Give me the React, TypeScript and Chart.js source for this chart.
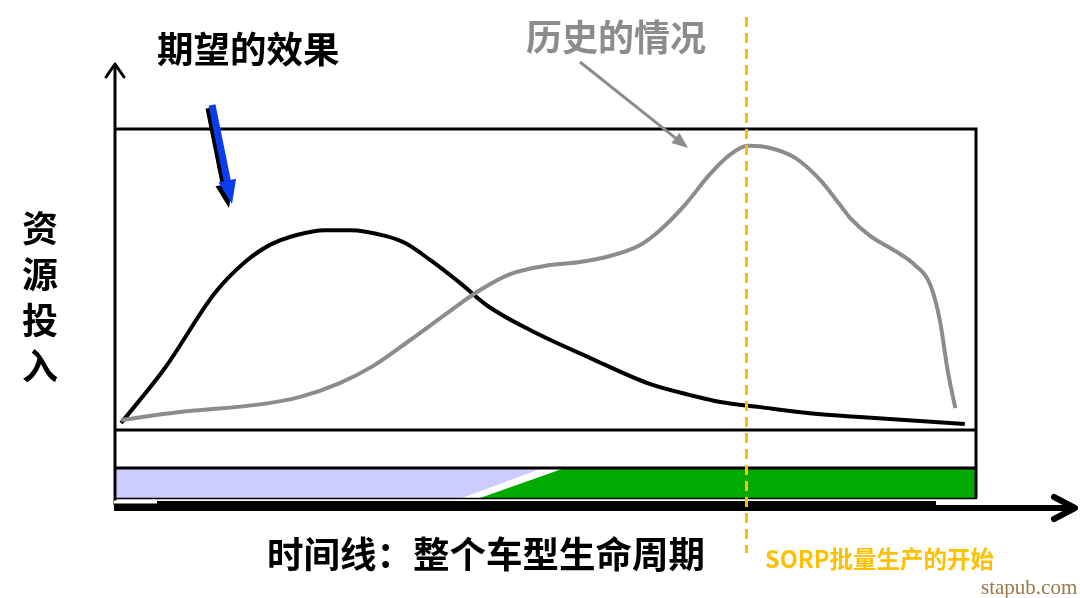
import React, { useEffect, useRef } from "react";
import { Chart, registerables } from "chart.js";

Chart.register(...registerables);

// Time along the whole vehicle lifecycle (0-100) and resource input (0-100)
const desiredTime = [0.7, 5.8, 11.6, 15.1, 18.0, 21.1, 24.4, 27.3, 31.4, 33.7, 36.6, 40.1, 43.3, 48.2, 55.2, 62.1, 66.8, 70.3, 74.9, 80.7, 86.5, 93.5, 98.7];
const desiredEffort = [2.3, 20.6, 45.5, 55.8, 61.5, 64.8, 66.4, 66.4, 64.5, 62.1, 56.5, 48.8, 41.2, 33.2, 23.9, 15.3, 11.6, 9.3, 7.6, 5.6, 4.3, 3.0, 2.0];

const historyTime = [0.7, 7.5, 17.1, 21.5, 26.1, 30.0, 34.3, 38.9, 42.4, 45.9, 49.9, 54.0, 57.5, 61.0, 63.3, 66.2, 69.1, 71.4, 73.5, 76.1, 79.0, 81.9, 84.2, 85.4, 87.7, 90.6, 92.9, 94.7, 95.8, 96.7, 97.6];
const historyEffort = [3.3, 6.0, 8.6, 11.0, 15.6, 21.3, 29.9, 39.5, 46.5, 51.8, 54.5, 55.8, 57.8, 61.5, 66.4, 74.8, 85.0, 91.4, 94.4, 93.7, 90.4, 83.1, 74.8, 70.4, 64.5, 59.5, 54.8, 48.2, 36.5, 19.9, 7.3];

const sorpTime = [73.3];

const labels = {
  desired: "期望的效果",
  history: "历史的情况",
  yAxis: ["资", "源", "投", "入"],
  xAxis: "时间线：整个车型生命周期",
  sorp: "SORP批量生产的开始",
  credit: "stapub.com",
};

function toPoints(xs: number[], ys: number[]) {
  return xs.map((x, i) => ({ x, y: ys[i] }));
}

function arrow(ctx: CanvasRenderingContext2D, x1: number, y1: number, x2: number, y2: number, color: string, lw: number, headLen: number, headW: number) {
  const dx = x2 - x1, dy = y2 - y1;
  const len = Math.hypot(dx, dy);
  const ux = dx / len, uy = dy / len;
  const px = -uy, py = ux;
  const bx = x2 - ux * headLen, by = y2 - uy * headLen;
  ctx.save();
  ctx.strokeStyle = color;
  ctx.fillStyle = color;
  ctx.lineWidth = lw;
  ctx.beginPath();
  ctx.moveTo(x1, y1);
  ctx.lineTo(bx + ux * 1, by + uy * 1);
  ctx.stroke();
  ctx.beginPath();
  ctx.moveTo(x2, y2);
  ctx.lineTo(bx + px * headW / 2, by + py * headW / 2);
  ctx.lineTo(bx - px * headW / 2, by - py * headW / 2);
  ctx.closePath();
  ctx.fill();
  ctx.restore();
}

const decorPlugin = {
  id: "decor",
  beforeDatasetsDraw(chart: any) {
    const ctx: CanvasRenderingContext2D = chart.ctx;
    const a = chart.chartArea;
    const L = a.left, R = a.right, T = a.top, B = a.bottom;
    const barTop = B + 39, barBot = B + 68;
    ctx.save();
    // phase bar
    ctx.fillStyle = "#ccccff";
    ctx.beginPath();
    ctx.moveTo(L, barTop);
    ctx.lineTo(540, barTop);
    ctx.lineTo(462, barBot);
    ctx.lineTo(L, barBot);
    ctx.closePath();
    ctx.fill();
    ctx.fillStyle = "#00aa00";
    ctx.beginPath();
    ctx.moveTo(562, barTop);
    ctx.lineTo(R + 1, barTop);
    ctx.lineTo(R + 1, barBot);
    ctx.lineTo(480, barBot);
    ctx.closePath();
    ctx.fill();
    // box lines
    ctx.strokeStyle = "#000";
    ctx.lineWidth = 3;
    ctx.beginPath();
    ctx.moveTo(L, T); ctx.lineTo(R, T);
    ctx.moveTo(L, B); ctx.lineTo(R, B);
    ctx.moveTo(L, barTop - 1); ctx.lineTo(R, barTop - 1);
    ctx.moveTo(R, T - 1.5); ctx.lineTo(R, barBot);
    ctx.stroke();
    ctx.lineWidth = 1.5;
    ctx.beginPath();
    ctx.moveTo(L, barBot + 0.5); ctx.lineTo(R + 1, barBot + 0.5);
    ctx.stroke();
    // y axis
    ctx.lineWidth = 3;
    ctx.beginPath();
    ctx.moveTo(L, barBot + 7); ctx.lineTo(L, 64);
    ctx.stroke();
    ctx.lineCap = "round";
    ctx.lineJoin = "round";
    ctx.beginPath();
    ctx.moveTo(L - 9, 77); ctx.lineTo(L, 64); ctx.lineTo(L + 9, 77);
    ctx.stroke();
    // x axis
    ctx.fillStyle = "#000";
    ctx.fillRect(L - 1, barBot + 3, 937 - L, 10);
    ctx.fillStyle = "#fff";
    ctx.fillRect(L - 1, barBot + 2.5, 43, 3);
    ctx.lineCap = "butt";
    ctx.lineWidth = 6;
    ctx.beginPath();
    ctx.moveTo(930, 508); ctx.lineTo(1074, 508);
    ctx.stroke();
    ctx.lineCap = "round";
    ctx.beginPath();
    ctx.moveTo(1054, 497); ctx.lineTo(1075, 508); ctx.lineTo(1054, 519);
    ctx.stroke();
    ctx.restore();
  },
  afterDatasetsDraw(chart: any) {
    const ctx: CanvasRenderingContext2D = chart.ctx;
    const xs = chart.scales.x;
    const sx = Math.round(xs.getPixelForValue(sorpTime[0])) + 0.5;
    ctx.save();
    ctx.strokeStyle = "#ffc000";
    ctx.lineWidth = 3;
    ctx.setLineDash([10, 6]);
    ctx.beginPath();
    ctx.moveTo(sx, 17);
    ctx.lineTo(sx, 553);
    ctx.stroke();
    ctx.restore();
    // pointer arrows
    arrow(ctx, 580, 62, 688, 148, "#8c8c8c", 3, 16, 13);
    arrow(ctx, 209, 108, 229, 208, "#000", 7, 24, 18);
    arrow(ctx, 212, 105, 232, 204, "#0a3cf0", 7, 24, 18);
  },
};

export default function App() {
  const ref = useRef<HTMLCanvasElement>(null);
  useEffect(() => {
    if (!ref.current) return;
    const chart = new Chart(ref.current, {
      type: "line",
      data: {
        datasets: [
          {
            label: "历史的情况",
            data: toPoints(historyTime, historyEffort),
            borderColor: "#8c8c8c",
            borderWidth: 4,
            pointRadius: 0,
            tension: 0.4,
            cubicInterpolationMode: "monotone",
            fill: false,
          },
          {
            label: "期望的效果",
            data: toPoints(desiredTime, desiredEffort),
            borderColor: "#000000",
            borderWidth: 4,
            pointRadius: 0,
            tension: 0.4,
            cubicInterpolationMode: "monotone",
            fill: false,
          },
        ],
      },
      options: {
        responsive: false,
        animation: false,
        devicePixelRatio: 1,
        layout: { padding: { left: 115, right: 104, top: 129, bottom: 168 } },
        plugins: { legend: { display: false }, tooltip: { enabled: false }, title: { display: false } },
        scales: {
          x: { type: "linear", min: 0, max: 100, display: false },
          y: { type: "linear", min: 0, max: 100, display: false },
        },
      },
      plugins: [decorPlugin],
    } as any);
    return () => chart.destroy();
  }, []);

  const cjk = '"Noto Sans CJK SC", "Noto Sans", sans-serif';
  const base: React.CSSProperties = { position: "absolute", fontFamily: cjk, fontWeight: 700, lineHeight: 1, whiteSpace: "nowrap", margin: 0 };

  return (
    <div style={{ position: "absolute", left: 0, top: 0, width: 1080, height: 598, background: "#fff", overflow: "hidden" }}>
      <canvas ref={ref} width={1080} height={598} style={{ position: "absolute", left: 0, top: 0, width: 1080, height: 598 }} />
      <div style={{ ...base, left: 157, top: 30, fontSize: 36.5, color: "#000" }}>{labels.desired}</div>
      <div style={{ ...base, left: 526, top: 17, fontSize: 36, color: "#8c8c8c" }}>{labels.history}</div>
      <div style={{ ...base, left: 22, top: 203, fontSize: 36, color: "#000", lineHeight: "46px", width: 36 }}>
        {labels.yAxis.map((c, i) => (
          <div key={i}>{c}</div>
        ))}
      </div>
      <div style={{ ...base, left: 267, top: 535, fontSize: 36.5, color: "#000" }}>{labels.xAxis}</div>
      <div style={{ ...base, left: 765, top: 547, fontSize: 23.5, color: "#ffc000" }}>{labels.sorp}</div>
      <div style={{ ...base, left: 981, top: 577, fontSize: 21, color: "#9b7a4a", fontFamily: '"Liberation Serif", "DejaVu Serif", serif', fontWeight: 400 }}>{labels.credit}</div>
    </div>
  );
}
